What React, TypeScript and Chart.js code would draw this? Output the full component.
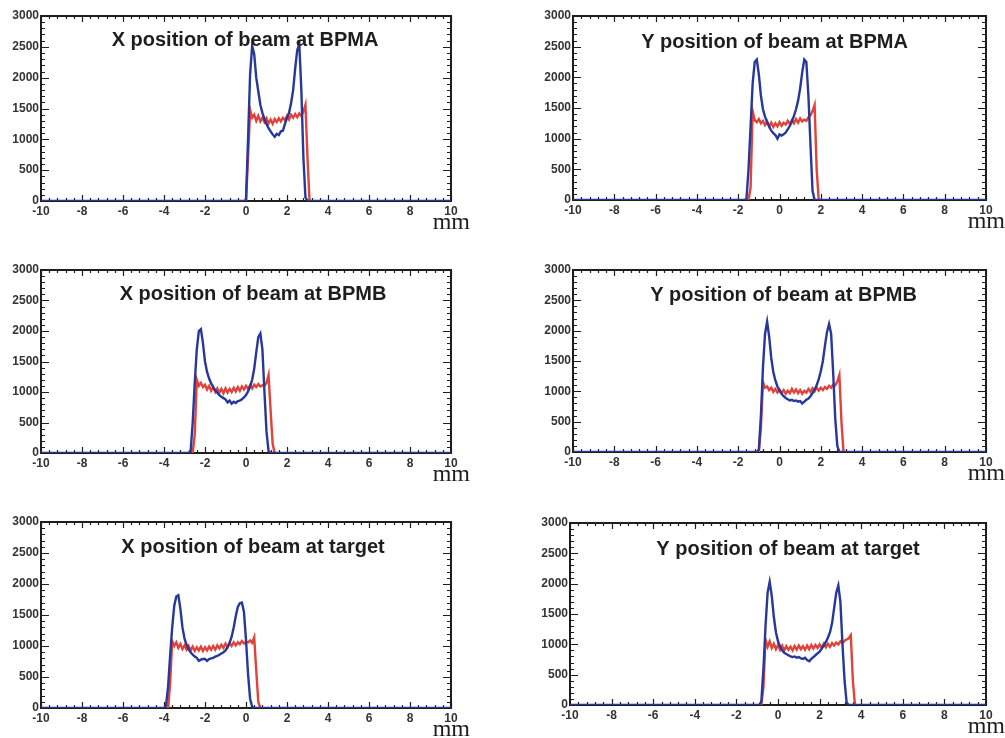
import React, { useEffect, useRef } from "react";
import { Chart, registerables } from "chart.js";

Chart.register(...registerables);

// ---------- axis definitions ----------
const X_MIN = -10;
const X_MAX = 10;
const X_STEP = 2;
const Y_MIN = 0;
const Y_MAX = 3000;
const Y_STEP = 500;
const BIN_WIDTH = 0.1; // mm per histogram bin

// ---------- panel titles ----------
const panelTitles = [
  "X position of beam at BPMA",
  "Y position of beam at BPMA",
  "X position of beam at BPMB",
  "Y position of beam at BPMB",
  "X position of beam at target",
  "Y position of beam at target",
];
const xUnit = "mm";

// ---------- histogram data (first bin centre + counts) ----------
// X at BPMA
const xBpmaBlueStart = -0.1;
const xBpmaBlue = [0, 20, 1000, 2050, 2520, 2380, 2000, 1780, 1560, 1430, 1330, 1250, 1180, 1130, 1080, 1040, 1090, 1070, 1130, 1140, 1250, 1350, 1430, 1590, 1800, 2150, 2450, 2540, 1800, 700, 60, 0];
const xBpmaRedStart = 0.0;
const xBpmaRed = [0, 700, 1480, 1350, 1400, 1300, 1380, 1290, 1350, 1280, 1340, 1260, 1320, 1250, 1330, 1280, 1340, 1290, 1350, 1310, 1380, 1320, 1400, 1350, 1410, 1360, 1420, 1380, 1450, 1560, 700, 0];
// Y at BPMA
const yBpmaBlueStart = -1.7;
const yBpmaBlue = [0, 20, 500, 1200, 1900, 2250, 2290, 2050, 1700, 1480, 1360, 1270, 1200, 1130, 1090, 1060, 1000, 1070, 1050, 1070, 1100, 1150, 1210, 1280, 1370, 1480, 1620, 1820, 2080, 2290, 2250, 1700, 900, 150, 0];
const yBpmaRedStart = -1.5;
const yBpmaRed = [0, 200, 1450, 1300, 1270, 1320, 1250, 1290, 1220, 1280, 1200, 1260, 1190, 1250, 1200, 1270, 1210, 1260, 1230, 1290, 1240, 1300, 1250, 1320, 1260, 1330, 1280, 1310, 1290, 1350, 1380, 1450, 1550, 500, 0];
// X at BPMB
const xBpmbBlueStart = -2.8;
const xBpmbBlue = [0, 30, 500, 1150, 1700, 2000, 2030, 1800, 1500, 1330, 1220, 1140, 1080, 1030, 990, 950, 920, 900, 880, 830, 860, 810, 840, 820, 850, 860, 880, 910, 950, 1010, 1090, 1200, 1380, 1650, 1900, 1960, 1700, 1000, 350, 30, 0];
const xBpmbRedStart = -2.6;
const xBpmbRed = [0, 300, 1200, 1100, 1150, 1080, 1120, 1040, 1100, 1020, 1080, 1000, 1060, 990, 1050, 980, 1060, 990, 1050, 1000, 1070, 1010, 1080, 1020, 1090, 1040, 1100, 1050, 1110, 1060, 1120, 1080, 1130, 1090, 1110, 1100, 1150, 1280, 700, 150, 0];
// Y at BPMB
const yBpmbBlueStart = -1.1;
const yBpmbBlue = [0, 40, 600, 1400, 1950, 2150, 1900, 1550, 1320, 1180, 1080, 1010, 960, 920, 890, 870, 850, 860, 840, 850, 830, 840, 800, 830, 860, 880, 920, 970, 1030, 1100, 1200, 1330, 1500, 1750, 1980, 2110, 1950, 1300, 550, 100, 0];
const yBpmbRedStart = -1.0;
const yBpmbRed = [0, 400, 1150, 1060, 1080, 1020, 1060, 990, 1040, 980, 1030, 970, 1020, 960, 1010, 970, 1040, 980, 1030, 970, 1020, 960, 1010, 980, 1040, 990, 1050, 1000, 1060, 1010, 1060, 1020, 1070, 1040, 1090, 1060, 1110, 1100, 1160, 1270, 500, 0];
// X at target
const xTargetBlueStart = -4.0;
const xTargetBlue = [0, 40, 350, 850, 1300, 1650, 1800, 1820, 1600, 1300, 1120, 1020, 950, 900, 860, 830, 810, 760, 780, 790, 790, 760, 790, 800, 810, 830, 840, 860, 880, 900, 930, 980, 1050, 1150, 1300, 1480, 1630, 1690, 1700, 1550, 1100, 550, 150, 20, 0];
const xTargetRedStart = -3.8;
const xTargetRed = [0, 400, 1080, 1000, 1060, 970, 1030, 950, 1010, 940, 1000, 930, 990, 920, 980, 930, 990, 920, 980, 930, 990, 940, 1000, 940, 1010, 960, 1020, 970, 1040, 980, 1050, 1000, 1060, 1010, 1060, 1030, 1080, 1040, 1070, 1060, 1090, 1050, 1140, 600, 100, 0];
// Y at target
const yTargetBlueStart = -0.9;
const yTargetBlue = [0, 60, 600, 1300, 1850, 2030, 1800, 1450, 1200, 1050, 960, 900, 860, 840, 820, 800, 790, 800, 780, 790, 770, 760, 780, 740, 720, 760, 790, 820, 850, 880, 930, 980, 1040, 1110, 1200, 1350, 1600, 1850, 1970, 1700, 1000, 400, 40, 0];
const yTargetRedStart = -0.8;
const yTargetRed = [0, 300, 1080, 960, 1050, 940, 1010, 920, 990, 910, 980, 900, 970, 910, 960, 900, 970, 910, 980, 920, 970, 910, 980, 920, 990, 930, 990, 940, 1000, 940, 1010, 950, 1010, 960, 1020, 980, 1030, 1000, 1050, 1020, 1060, 1080, 1100, 1150, 400, 0];

// ---------- styles ----------
const BLUE = "#26389a";
const RED = "#e1423a";
const INK = "#1e1e1e";
const SANS = "'Liberation Sans', Arial, Helvetica, sans-serif";
const SERIF = "'Liberation Serif', 'Times New Roman', serif";
const AXIS_W = 41; // space left of plot frame
const AXIS_H = 30; // space below plot frame
const PAD_TOP = 12;
const PAD_RIGHT = 19;

type PanelCfg = {
  title: string;
  plot: { l: number; t: number; r: number; b: number };
  titleDx: number;
  titleBase: number;
  blueStart: number;
  blue: number[];
  redStart: number;
  red: number[];
};

const panels: PanelCfg[] = [
  { title: panelTitles[0], plot: { l: 41, t: 16, r: 451, b: 201 }, titleDx: -1, titleBase: 30, blueStart: xBpmaBlueStart, blue: xBpmaBlue, redStart: xBpmaRedStart, red: xBpmaRed },
  { title: panelTitles[1], plot: { l: 573, t: 16, r: 986, b: 200 }, titleDx: -5, titleBase: 32, blueStart: yBpmaBlueStart, blue: yBpmaBlue, redStart: yBpmaRedStart, red: yBpmaRed },
  { title: panelTitles[2], plot: { l: 41, t: 270, r: 451, b: 453 }, titleDx: 7, titleBase: 30, blueStart: xBpmbBlueStart, blue: xBpmbBlue, redStart: xBpmbRedStart, red: xBpmbRed },
  { title: panelTitles[3], plot: { l: 573, t: 270, r: 986, b: 452 }, titleDx: 4, titleBase: 31, blueStart: yBpmbBlueStart, blue: yBpmbBlue, redStart: yBpmbRedStart, red: yBpmbRed },
  { title: panelTitles[4], plot: { l: 41, t: 522, r: 451, b: 708 }, titleDx: 7, titleBase: 31, blueStart: xTargetBlueStart, blue: xTargetBlue, redStart: xTargetRedStart, red: xTargetRed },
  { title: panelTitles[5], plot: { l: 570, t: 523, r: 986, b: 705 }, titleDx: 10, titleBase: 32, blueStart: yTargetBlueStart, blue: yTargetBlue, redStart: yTargetRedStart, red: yTargetRed },
];

function toPoints(start: number, counts: number[], fullRange: boolean) {
  const pts: { x: number; y: number }[] = [];
  if (fullRange) pts.push({ x: X_MIN, y: 0 });
  counts.forEach((c, i) => pts.push({ x: Math.round((start + i * BIN_WIDTH) * 1000) / 1000, y: c }));
  if (fullRange) pts.push({ x: X_MAX, y: 0 });
  return pts;
}

function makeDecor(cfg: PanelCfg) {
  return {
    id: "decor",
    beforeDatasetsDraw(chart: any) {
      const { ctx, chartArea: a, scales } = chart;
      const xs = scales.x;
      const ys = scales.y;
      ctx.save();
      ctx.strokeStyle = INK;
      ctx.lineWidth = 1.2;
      ctx.beginPath();
      // x ticks (bottom & top, pointing inward), 5 minor divisions per major
      const xDivs = ((X_MAX - X_MIN) / X_STEP) * 5;
      for (let i = 0; i <= xDivs; i++) {
        const v = X_MIN + (i * X_STEP) / 5;
        const px = Math.round(xs.getPixelForValue(v)) + 0.5;
        const len = i % 5 === 0 ? 6 : 3;
        ctx.moveTo(px, a.bottom);
        ctx.lineTo(px, a.bottom - len);
        ctx.moveTo(px, a.top);
        ctx.lineTo(px, a.top + len);
      }
      // y ticks (left & right, inward)
      const yDivs = ((Y_MAX - Y_MIN) / Y_STEP) * 5;
      for (let i = 0; i <= yDivs; i++) {
        const v = Y_MIN + (i * Y_STEP) / 5;
        const py = Math.round(ys.getPixelForValue(v)) + 0.5;
        const len = i % 5 === 0 ? 8 : 4;
        ctx.moveTo(a.left, py);
        ctx.lineTo(a.left + len, py);
        ctx.moveTo(a.right, py);
        ctx.lineTo(a.right - len, py);
      }
      ctx.stroke();
      // frame
      ctx.lineWidth = 2;
      ctx.strokeRect(a.left, a.top, a.right - a.left, a.bottom - a.top);
      ctx.restore();
    },
    afterDatasetsDraw(chart: any) {
      const { ctx, chartArea: a } = chart;
      ctx.save();
      ctx.fillStyle = INK;
      ctx.font = `bold 20px ${SANS}`;
      ctx.textAlign = "center";
      ctx.textBaseline = "alphabetic";
      ctx.fillText(cfg.title, (a.left + a.right) / 2 + cfg.titleDx, a.top + cfg.titleBase);
      ctx.font = `24px ${SERIF}`;
      ctx.textAlign = "right";
      ctx.fillText(xUnit, a.right + 19, a.bottom + 28);
      ctx.restore();
    },
  };
}

function Panel({ cfg }: { cfg: PanelCfg }) {
  const ref = useRef<HTMLCanvasElement>(null);
  const left = cfg.plot.l - AXIS_W;
  const top = cfg.plot.t - PAD_TOP;
  const width = cfg.plot.r - cfg.plot.l + AXIS_W + PAD_RIGHT;
  const height = cfg.plot.b - cfg.plot.t + PAD_TOP + AXIS_H;

  useEffect(() => {
    const canvas = ref.current;
    if (!canvas) return;
    const tickFont = { family: SANS, size: 12, weight: "bold" };
    const chart = new Chart(canvas, {
      type: "line",
      data: {
        datasets: [
          { data: toPoints(cfg.redStart, cfg.red, false), borderColor: RED, borderWidth: 2.4, pointRadius: 0, tension: 0, fill: false, order: 2 },
          { data: toPoints(cfg.blueStart, cfg.blue, true), borderColor: BLUE, borderWidth: 2.4, pointRadius: 0, tension: 0, fill: false, order: 1 },
        ],
      },
      options: {
        animation: false,
        responsive: false,
        maintainAspectRatio: false,
        devicePixelRatio: 1,
        events: [],
        layout: { padding: { top: PAD_TOP, right: PAD_RIGHT, left: 0, bottom: 0 } },
        scales: {
          x: {
            type: "linear",
            min: X_MIN,
            max: X_MAX,
            grid: { display: false, drawTicks: false },
            border: { display: false },
            ticks: { stepSize: X_STEP, padding: 3, color: "#333333", font: tickFont, maxRotation: 0, autoSkip: false, callback: (v: any) => String(v) },
            afterFit: (s: any) => { s.height = AXIS_H; },
          },
          y: {
            type: "linear",
            min: Y_MIN,
            max: Y_MAX,
            grid: { display: false, drawTicks: false },
            border: { display: false },
            ticks: { stepSize: Y_STEP, padding: 2, color: "#333333", font: tickFont, autoSkip: false, callback: (v: any) => String(v) },
            afterFit: (s: any) => { s.width = AXIS_W; },
          },
        },
        plugins: {
          legend: { display: false },
          tooltip: { enabled: false },
          title: { display: false },
        },
      },
      plugins: [makeDecor(cfg)],
    } as any);
    return () => chart.destroy();
  }, [cfg]);

  return (
    <canvas
      ref={ref}
      width={width}
      height={height}
      style={{ position: "absolute", left, top, width, height }}
    />
  );
}

export default function App() {
  return (
    <div
      style={{
        position: "absolute",
        left: 0,
        top: 0,
        width: 1005,
        height: 738,
        overflow: "hidden",
        background: "#ffffff",
      }}
    >
      {panels.map((p, i) => (
        <Panel key={i} cfg={p} />
      ))}
    </div>
  );
}
